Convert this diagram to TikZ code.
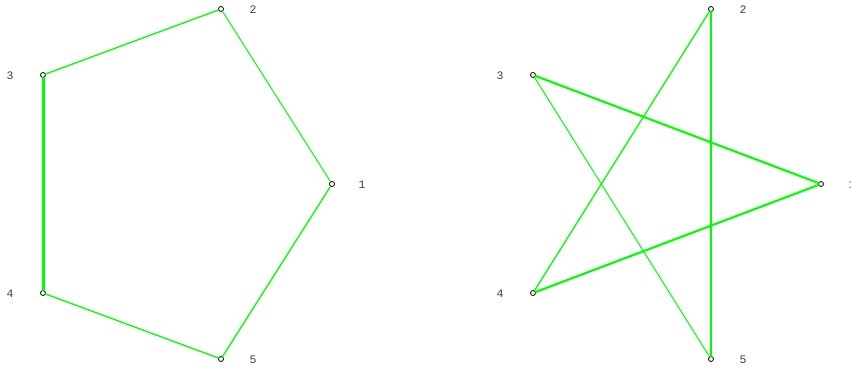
\documentclass[tikz,border=0pt]{standalone}
\usepackage{fontspec}
\setmonofont{Liberation Mono}
\begin{document}
\begin{tikzpicture}[x=1pt, y=-1pt, line cap=round, line join=round,
	vtx/.style={circle, draw=black, fill=white, inner sep=0pt, minimum size=5pt, line width=0.8pt},
	lbl/.style={font=\ttfamily\fontsize{11.5}{13}\selectfont, text=black!75},
	link/.style={green, line width=1.3pt},
	thin link/.style={green, line width=1pt},
	heavy link/.style={green, line width=2.1pt},
	bold link/.style={green, line width=3pt}]
	\useasboundingbox (0,0) rectangle (851,369);
	
	% pentagon
	\foreach \x/\y/\lx/\n in {332/184/362/1, 221/9/253/2, 43/75/10/3, 43/293/10/4, 221/359/253/5} {
		\node[vtx] (L\n) at (\x,\y) {};
		\node[lbl] (LT\n) at (\lx,\y+1) {\n};
	}
	% star
	\foreach \x/\y/\lx/\n in {821/184/852/1, 711/9/743/2, 533/75/500/3, 533/293/500/4, 711/359/743/5} {
		\node[vtx] (R\n) at (\x,\y) {};
		\node[lbl] (RT\n) at (\lx,\y+1) {\n};
	}
	
	\draw[thin link] (L1) -- (L2);
	\draw[link] (L2) -- (L3);
	\draw[bold link] (L3) -- (L4);
	\draw[link] (L4) -- (L5);
	\draw[link] (L5) -- (L1);
	
	\draw[heavy link] (R1) -- (R3);
	\draw[thin link] (R3) -- (R5);
	\draw[heavy link] (R5) -- (R2);
	\draw[link] (R2) -- (R4);
	\draw[heavy link] (R4) -- (R1);
\end{tikzpicture}
\end{document}
